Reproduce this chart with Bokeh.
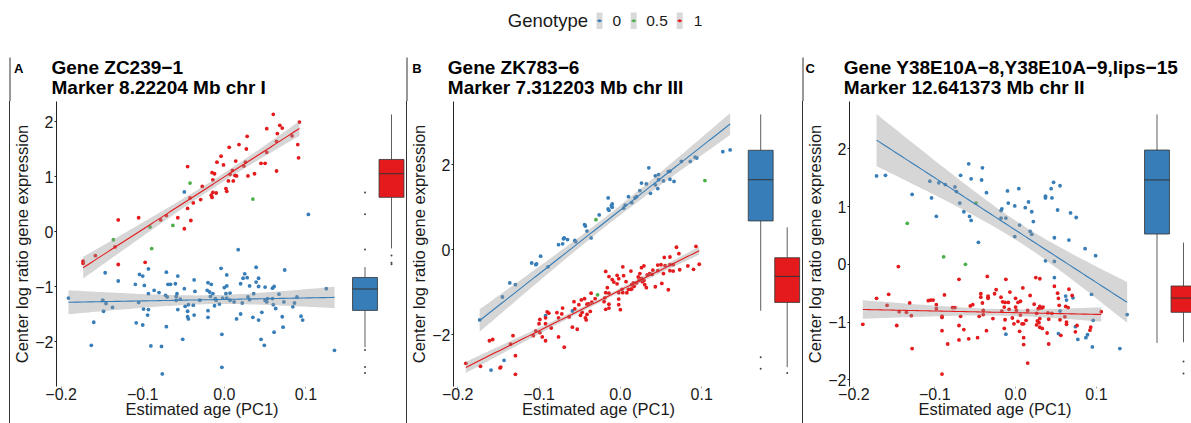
import numpy as np
from bokeh.plotting import figure
from bokeh.layouts import column, row
from bokeh.models import Range1d, FixedTicker, Spacer
from bokeh.embed import file_html
from bokeh.resources import INLINE
from bokeh.core.properties import value

FONT = "Liberation Sans"
TXT = "#1a1a1a"

# ---------------- categories / colours ----------------
genotypes = ["0", "0.5", "1"]
geno_colors = ["#377EB8", "#4DAF4A", "#E41A1C"]

# ---------------- titles ----------------
panel_letters = ["A", "B", "C"]
gene_titles = ["Gene ZC239\u22121", "Gene ZK783\u22126", "Gene Y38E10A\u22128,Y38E10A\u22129,lips\u221215"]
marker_titles = ["Marker 8.22204 Mb chr I", "Marker 7.312203 Mb chr III", "Marker 12.641373 Mb chr II"]
x_label = "Estimated age (PC1)"
y_label = "Center log ratio gene expression"

x_ticks = [-0.2, -0.1, 0.0, 0.1]
x_tick_labels = ["\u22120.2", "\u22120.1", "0.0", "0.1"]
A_y_ticks = [-2, -1, 0, 1, 2]
A_y_tick_labels = ["\u22122", "\u22121", "0", "1", "2"]
B_y_ticks = [-2, 0, 2]
B_y_tick_labels = ["\u22122", "0", "2"]
C_y_ticks = [-2, -1, 0, 1, 2]
C_y_tick_labels = ["\u22122", "\u22121", "0", "1", "2"]

# ---------------- Panel A data (age, expression) ----------------
A_g0 = [(-0.191,-1.21),(-0.146,-0.75),(-0.130,-0.90),(-0.149,-1.25),(-0.145,-1.31),(-0.148,-1.45),(-0.137,-1.38),
        (-0.160,-1.65),(-0.163,-2.07),(-0.109,-0.96),(-0.104,-0.78),(-0.100,-0.81),(-0.098,-0.98),(-0.093,-0.68),
        (-0.086,-1.07),(-0.093,-1.13),(-0.080,-1.11),(-0.105,-1.29),(-0.099,-1.41),(-0.093,-1.42),(-0.094,-1.52),
        (-0.108,-1.66),(-0.100,-1.70),(-0.090,-2.08),(-0.077,-2.09),(-0.076,-2.59),(-0.071,-0.74),(-0.069,-0.96),
        (-0.066,-0.96),(-0.060,-0.95),(-0.072,-1.16),(-0.070,-1.19),(-0.071,-1.73),(-0.057,-0.81),(-0.058,-1.13),
        (-0.059,-1.18),(-0.054,-1.23),(-0.059,-1.25),(-0.049,-1.04),(-0.037,-0.88),(-0.036,-1.09),(-0.057,-1.42),
        (-0.048,-1.36),(-0.044,-1.33),(-0.038,-1.34),(-0.045,-1.45),(-0.045,-1.55),(-0.044,-1.59),(-0.037,-1.52),
        (-0.051,-1.96),(-0.049,0.72),
        (0.103,0.31),(0.017,-0.33),(-0.004,-0.67),(0.039,-0.65),(0.074,-0.70),(0.003,-0.79),(0.025,-0.77),
        (0.028,-0.84),(0.023,-0.85),(0.042,-0.85),(-0.020,-0.93),(-0.016,-0.96),(0.020,-0.95),(0.031,-0.99),
        (0.039,-0.92),(0.000,-1.02),(0.003,-0.99),(0.042,-1.00),(0.050,-1.01),(0.059,-1.03),(0.061,-1.00),
        (-0.021,-1.07),(-0.018,-1.10),(-0.014,-1.13),(-0.017,-1.18),(0.002,-1.13),(0.007,-1.12),(0.067,-1.14),
        (0.089,-1.19),(0.125,-1.04),(-0.011,-1.22),(-0.002,-1.21),(0.003,-1.21),(0.029,-1.19),(0.036,-1.13),
        (0.053,-1.22),(0.059,-1.22),(-0.030,-1.25),(-0.010,-1.25),(0.007,-1.25),(0.012,-1.28),(0.022,-1.30),
        (0.031,-1.24),(0.050,-1.25),(0.052,-1.28),(0.073,-1.28),(0.086,-1.30),(-0.006,-1.32),(-0.012,-1.35),
        (0.060,-1.33),(0.063,-1.40),(0.084,-1.37),(-0.020,-1.44),(-0.020,-1.56),(0.020,-1.50),(0.046,-1.47),
        (0.035,-1.56),(0.015,-1.59),(0.042,-1.61),(0.071,-1.55),(0.094,-1.54),(0.096,-1.61),(0.072,-1.74),
        (0.061,-1.83),(-0.003,-1.87),(0.045,-1.96),(0.049,-2.07),(-0.003,-2.47),(0.135,-2.16)]
A_g05 = [(-0.042,0.88),(-0.063,0.11),(-0.089,-0.31),(-0.136,-0.15),(-0.091,0.08),(0.035,0.59)]
A_g1 = [(-0.045,1.18),(-0.027,0.82),(-0.042,0.61),(-0.029,0.58),(-0.045,0.42),(-0.038,0.52),(-0.041,0.20),
        (-0.049,0.05),(-0.057,0.25),(-0.071,0.29),(-0.078,0.21),(-0.105,0.25),(-0.097,-0.56),(-0.130,0.21),
        (-0.134,-0.28),(-0.130,-0.60),(-0.158,-0.44),(-0.173,-0.54),(-0.173,-0.58),
        (0.060,2.13),(0.068,1.93),(0.071,1.88),(0.052,1.87),(0.092,1.99),(0.065,1.78),(0.028,1.73),(0.018,1.58),
        (0.006,1.53),(0.027,1.50),(0.064,1.64),(0.083,1.74),(0.090,1.58),(0.091,1.34),(0.052,1.44),(-0.004,1.37),
        (-0.009,1.26),(-0.001,1.21),(0.014,1.28),(0.026,1.26),(0.045,1.24),(0.050,1.24),(0.024,1.19),(0.064,1.10),
        (0.037,1.05),(0.029,1.01),(-0.015,1.07),(-0.012,1.05),(-0.014,0.94),(0.007,1.04),(0.010,1.11),(0.013,1.02),
        (0.015,1.01),(0.005,0.92),(0.011,0.92),(0.002,0.78),(0.003,0.73),(-0.014,0.71),(-0.010,0.70),(-0.016,0.66),
        (-0.015,0.62)]
# box statistics: [lower whisker, Q1, median, Q3, upper whisker]
A_box_g0 = [-2.11, -1.44, -1.05, -0.84, -0.65]
A_out_g0 = [0.71, 0.31, -0.33, -2.16, -2.47, -2.58]
A_box_g1 = [-0.31, 0.62, 1.05, 1.31, 2.13]
A_out_g1 = [-0.44, -0.57, -0.60]

# ---------------- Panel B data ----------------
B_g0 = [(-0.173,-1.65),(-0.145,-1.11),(-0.136,-0.78),(-0.129,-0.82),(-0.109,-0.31),(-0.104,-0.35),(-0.103,-0.33),
        (-0.098,-0.15),(-0.089,-0.40),(-0.076,0.12),(-0.071,0.14),(-0.070,0.26),(-0.069,0.28),(-0.065,0.24),
        (-0.056,0.22),(-0.055,0.19),(-0.044,0.59),(-0.043,0.56),(-0.041,0.44),(-0.036,0.28),(-0.092,-1.55),
        (-0.059,-1.44),(-0.143,-2.60),(-0.159,-2.83),
        (-0.026,0.82),(-0.015,1.22),(-0.015,0.96),(-0.014,0.93),(-0.011,1.04),(-0.010,1.08),(-0.010,1.00),
        (0.004,0.98),(0.006,1.05),(0.010,1.25),(0.014,1.11),(0.018,1.22),(0.020,1.25),(0.024,1.39),(0.026,1.57),
        (0.032,1.55),(0.035,1.93),(0.037,1.33),(0.043,1.74),(0.043,1.53),(0.046,1.44),(0.047,1.77),(0.047,1.65),
        (0.053,1.62),(0.059,1.84),(0.061,1.85),(0.061,1.66),(0.066,1.61),(0.075,2.08),(0.086,2.08),(0.092,2.18),
        (0.094,2.16),(0.126,2.31),(0.135,2.35)]
B_g05 = [(-0.030,0.71),(-0.028,-1.06),(0.104,1.63)]
B_g1 = [(-0.190,-2.67),(-0.172,-2.74),(-0.161,-2.14),(-0.157,-2.11),(-0.148,-2.78),(-0.147,-2.76),(-0.132,-2.02),
        (-0.135,-2.22),(-0.129,-2.49),(-0.129,-2.93),(-0.107,-2.02),(-0.104,-1.91),(-0.099,-1.95),(-0.100,-1.74),
        (-0.099,-1.64),(-0.096,-2.05),(-0.092,-2.14),(-0.092,-1.74),(-0.092,-1.60),(-0.090,-1.46),(-0.088,-1.49),
        (-0.085,-1.84),(-0.078,-1.48),(-0.076,-1.60),(-0.076,-2.05),(-0.072,-1.51),(-0.071,-1.37),(-0.069,-2.29),
        (-0.063,-1.58),(-0.059,-1.82),(-0.057,-1.22),(-0.056,-1.39),(-0.053,-1.87),(-0.051,-1.29),(-0.049,-1.54),
        (-0.048,-1.18),(-0.047,-1.47),(-0.044,-1.15),(-0.043,-1.60),(-0.042,-1.65),(-0.041,-1.28),(-0.041,-1.52),
        (-0.039,-1.27),(-0.037,-1.45),(-0.036,-1.02),(-0.035,-1.23),(-0.031,-1.15),
        (0.069,0.06),(0.093,0.08),(0.072,-0.09),(0.054,-0.18),(0.061,-0.17),(0.046,-0.36),(0.050,-0.35),
        (0.055,-0.37),(0.061,-0.35),(0.065,-0.35),(0.073,-0.47),(0.083,-0.38),(0.090,-0.46),(0.097,-0.34),
        (0.003,-0.40),(0.026,-0.42),(0.029,-0.38),(0.040,-0.48),(0.033,-0.59),(0.046,-0.49),(0.053,-0.56),
        (0.061,-0.49),(0.065,-0.50),(-0.018,-0.51),(-0.014,-0.63),(-0.010,-0.70),(-0.008,-0.76),(-0.004,-0.60),
        (-0.004,-0.80),(-0.002,-0.68),(0.004,-0.61),(0.007,-0.75),(0.013,-0.50),(0.014,-0.82),(0.016,-0.78),
        (0.020,-0.78),(0.022,-0.64),(0.024,-0.56),(0.023,-0.72),(0.026,-0.67),(0.027,-0.75),(0.029,-0.72),
        (0.030,-0.82),(0.032,-0.89),(0.036,-0.56),(0.039,-0.58),(0.043,-0.87),(0.051,-0.79),(0.059,-0.94),
        (-0.016,-0.89),(-0.018,-1.01),(-0.014,-1.02),(-0.002,-1.01),(0.002,-0.93),(0.003,-1.01),(0.008,-1.01),
        (0.010,-0.93),(0.013,-0.93),(0.014,-0.92),(0.017,-0.86),(-0.019,-1.13),(-0.020,-1.22),(-0.014,-1.28),
        (-0.002,-1.16),(-0.002,-1.29),(-0.018,-1.40),(-0.014,-1.37),(0.000,-1.41)]
B_box_g0 = [-1.65, 0.18, 1.02, 1.62, 2.35]
B_out_g0 = [-2.60, -2.83]
B_box_g1 = [-2.80, -1.48, -0.95, -0.57, 0.05]
B_out_g1 = [-2.92]

# ---------------- Panel C data ----------------
C_g0 = [(-0.172,1.53),(-0.161,1.54),(-0.128,1.21),(-0.106,1.44),(-0.104,1.15),(-0.098,0.83),(-0.095,1.41),
        (-0.087,1.38),(-0.075,1.34),(-0.073,1.26),(-0.068,1.54),(-0.069,1.06),(-0.064,0.91),(-0.058,1.74),
        (-0.055,1.48),(-0.057,0.83),(-0.055,0.76),(-0.046,0.38),(-0.041,1.67),(-0.042,1.46),(-0.036,1.24),
        (0.047,1.42),(0.055,1.36),(0.044,1.31),(0.037,1.18),(0.037,1.15),(0.045,1.15),(-0.010,1.27),(0.004,1.31),
        (-0.009,1.06),(-0.001,1.01),(0.016,1.08),(0.012,0.98),(0.020,0.91),(-0.017,0.96),(-0.018,0.93),
        (-0.018,0.80),(-0.012,0.80),(0.052,0.94),(0.068,0.89),(0.075,0.81),(0.022,0.74),(0.005,0.68),(0.018,0.57),
        (0.020,0.52),(-0.001,0.48),(0.048,0.46),(0.066,0.42),(0.086,0.27),(0.099,0.15),(0.037,0.06),(0.048,0.05),
        (0.048,-0.23),(0.094,-0.52),(0.062,-0.55),(0.063,-0.62),(0.071,-0.58),(0.055,-0.81),(0.096,-0.97),
        (0.138,-0.87),(-0.012,-1.21),(0.053,-1.20),(0.074,-1.08),(0.077,-1.30),(0.087,-1.27),(0.089,-1.22),
        (0.095,-1.43),(0.129,-1.46)]
C_g05 = [(-0.134,0.71),(-0.089,0.13),(-0.062,0.00),(-0.049,1.06)]
C_g1 = [(-0.189,-1.04),(-0.172,-0.59),(-0.157,-0.52),(-0.159,-0.71),(-0.147,-1.06),(-0.145,-0.04),(-0.144,-0.82),
        (-0.135,-0.83),(-0.131,-0.67),(-0.129,-0.89),(-0.128,-1.46),(-0.108,-0.63),(-0.105,-0.62),(-0.102,-0.62),
        (-0.098,-0.70),(-0.098,-0.77),(-0.091,-0.90),(-0.091,-0.92),(-0.091,-1.15),(-0.091,-1.90),(-0.088,-0.53),
        (-0.084,-1.38),(-0.078,-0.75),(-0.075,-0.75),(-0.070,-0.26),(-0.068,-0.90),(-0.070,-1.06),(-0.070,-1.31),
        (-0.064,-1.13),(-0.058,-1.29),(-0.056,-0.72),(-0.053,-0.70),(-0.047,-1.27),(-0.045,-0.90),(-0.043,-0.51),
        (-0.043,-0.57),(-0.041,-0.67),(-0.040,-0.80),(-0.040,-0.87),(-0.036,-1.15),(-0.035,-0.21),(-0.034,-0.59),
        (-0.034,-0.57),(-0.034,-0.55),
        (-0.012,-0.26),(0.025,-0.23),(0.030,-0.25),(0.009,-0.41),(-0.024,-0.44),(-0.026,-0.51),(-0.007,-0.48),
        (0.018,-0.54),(-0.018,-0.57),(0.000,-0.59),(0.048,-0.38),(0.066,-0.43),(0.052,-0.50),(0.070,-0.54),
        (0.053,-0.59),(-0.016,-0.65),(-0.013,-0.66),(-0.009,-0.66),(0.003,-0.66),(0.006,-0.64),(0.023,-0.69),
        (0.030,-0.73),(0.034,-0.74),(0.054,-0.71),(0.062,-0.73),(0.065,-0.75),(-0.014,-0.74),(0.000,-0.74),
        (-0.017,-0.81),(-0.008,-0.78),(0.001,-0.80),(0.015,-0.80),(0.028,-0.77),(0.032,-0.76),(0.040,-0.84),
        (0.045,-0.85),(0.026,-0.85),(0.006,-0.88),(-0.028,-0.94),(-0.013,-0.96),(-0.004,-0.93),(0.030,-0.94),
        (0.041,-0.95),(0.055,-0.96),(0.061,-0.91),(0.063,-1.00),(0.063,-1.04),(0.003,-0.99),(0.008,-1.03),
        (0.010,-1.03),(0.013,-0.97),(0.027,-0.98),(0.029,-1.01),(0.026,-1.05),(0.030,-1.09),(0.033,-1.11),
        (-0.014,-1.11),(-0.002,-1.03),(0.005,-1.16),(0.039,-1.19),(0.056,-1.23),(0.074,-1.17),(0.076,-1.06),
        (0.092,-1.14),(0.093,-1.09),(0.106,-0.82),(0.010,-1.27),(0.010,-1.39),(0.041,-1.38),(0.015,-1.71)]
C_box_g0 = [-1.47, 0.06, 0.82, 1.24, 1.74]
C_out_g0 = []
C_box_g1 = [-1.46, -1.04, -0.84, -0.67, -0.06]
C_out_g1 = [-1.73, -1.90]

# ---------------- layout (page pixels, layout starts at 0,0) ----------------
PAGE_W = 1191
HDR_TOP, HDR_BOTTOM, FIG_BOTTOM = 0, 101, 423
FT, FB = 101, 386
BOX_UNIT = 26.5
panels = [
    dict(fig_left=10, frame_left=51, scatter_right=347, box_right=406, x0_px=221.7, x_ppu=830,
         y0_px=231.0, y_ppu=55.0, box_px=364.5, y_ticks=A_y_ticks, y_tick_labels=A_y_tick_labels,
         groups=[A_g0, A_g05, A_g1], boxes=[A_box_g0, A_box_g1], outs=[A_out_g0, A_out_g1]),
    dict(fig_left=407, frame_left=447, scatter_right=743, box_right=802, x0_px=617.3, x_ppu=830,
         y0_px=249.3, y_ppu=42.5, box_px=760.2, y_ticks=B_y_ticks, y_tick_labels=B_y_tick_labels,
         groups=[B_g0, B_g05, B_g1], boxes=[B_box_g0, B_box_g1], outs=[B_out_g0, B_out_g1]),
    dict(fig_left=803, frame_left=843, scatter_right=1140, box_right=1191, x0_px=1012.5, x_ppu=825,
         y0_px=263.8, y_ppu=57.75, box_px=1156.5, y_ticks=C_y_ticks, y_tick_labels=C_y_tick_labels,
         groups=[C_g0, C_g05, C_g1], boxes=[C_box_g0, C_box_g1], outs=[C_out_g0, C_out_g1]),
]
title_x = [51.0, 447.3, 843.3]
letter_x = [13.5, 411.7, 805.0]
sep_x = [9, 406, 802]


def lm_band(pairs, n=80, t=1.98):
    x = np.array([p[0] for p in pairs])
    y = np.array([p[1] for p in pairs])
    b, a = np.polyfit(x, y, 1)
    xs = np.linspace(x.min(), x.max(), n)
    fit = a + b * xs
    res = y - (a + b * x)
    s = np.sqrt((res ** 2).sum() / (len(x) - 2))
    se = s * np.sqrt(1.0 / len(x) + (xs - x.mean()) ** 2 / ((x - x.mean()) ** 2).sum())
    return xs, fit, fit - t * se, fit + t * se


def make_scatter(spec):
    fl, fr = spec["frame_left"], spec["scatter_right"]
    x0, xppu, y0, yppu = spec["x0_px"], spec["x_ppu"], spec["y0_px"], spec["y_ppu"]
    p = figure(width=fr - spec["fig_left"], height=FIG_BOTTOM - HDR_BOTTOM, title=None,
               x_range=Range1d((fl - x0) / xppu, (fr - x0) / xppu),
               y_range=Range1d((y0 - FB) / yppu, (y0 - FT) / yppu),
               output_backend="svg", toolbar_location=None,
               min_border_left=fl - spec["fig_left"], min_border_right=0,
               min_border_top=FT - HDR_BOTTOM, min_border_bottom=FIG_BOTTOM - FB)
    p.grid.visible = False
    p.outline_line_color = None
    groups = spec["groups"]
    for g, col in zip(groups, geno_colors):
        p.scatter([q[0] for q in g], [q[1] for q in g], size=3.8, fill_color=col, line_color=None)
    for g, col in [(groups[0], geno_colors[0]), (groups[2], geno_colors[2])]:
        xs, fit, lo, hi = lm_band(g)
        p.varea(x=xs, y1=lo, y2=hi, fill_color="#999999", fill_alpha=0.4)
        p.line(xs, fit, line_color=col, line_width=1.1)

    p.xaxis.ticker = FixedTicker(ticks=x_ticks)
    p.xaxis.major_label_overrides = dict(zip(x_ticks, x_tick_labels))
    p.xaxis.axis_line_color = None
    p.xaxis.major_tick_out = 2
    p.xaxis.major_tick_in = 0
    p.xaxis.major_tick_line_color = "#aaaaaa"
    p.xaxis.minor_tick_line_color = None
    p.xaxis.major_label_standoff = -1
    p.xaxis.axis_label = x_label
    p.xaxis.axis_label_standoff = -3
    p.yaxis.ticker = FixedTicker(ticks=spec["y_ticks"])
    p.yaxis.major_label_overrides = dict(zip(spec["y_ticks"], spec["y_tick_labels"]))
    p.yaxis.axis_line_color = "#222222"
    p.yaxis.axis_line_width = 1
    p.yaxis.major_tick_out = 2
    p.yaxis.major_tick_in = 0
    p.yaxis.major_tick_line_color = "#222222"
    p.yaxis.minor_tick_line_color = None
    p.yaxis.major_label_standoff = 1
    p.yaxis.axis_label = y_label
    p.yaxis.axis_label_standoff = 1
    for ax in (p.xaxis, p.yaxis):
        ax.major_label_text_font = FONT
        ax.major_label_text_font_size = "16px"
        ax.major_label_text_color = TXT
        ax.axis_label_text_font = FONT
        ax.axis_label_text_font_size = "16.5px"
        ax.axis_label_text_font_style = "normal"
        ax.axis_label_text_color = TXT
    return p


def make_box(spec):
    left, right, bc = spec["scatter_right"], spec["box_right"], spec["box_px"]
    all_y = [q[1] for g in spec["groups"] for q in g]
    ylo, yhi = min(all_y), max(all_y)
    pad = 0.05 * (yhi - ylo)
    b = figure(width=right - left, height=FIG_BOTTOM - HDR_BOTTOM, title=None,
               x_range=Range1d(1 - (bc - left) / BOX_UNIT, 1 + (right - bc) / BOX_UNIT),
               y_range=Range1d(ylo - pad, yhi + pad), x_axis_type=None, y_axis_type=None,
               output_backend="svg", toolbar_location=None,
               min_border_left=0, min_border_right=0,
               min_border_top=FT - HDR_BOTTOM, min_border_bottom=FIG_BOTTOM - FB)
    b.grid.visible = False
    b.outline_line_color = None
    for k, (st, outs, col) in enumerate(zip(spec["boxes"], spec["outs"], [geno_colors[0], geno_colors[2]])):
        pos = 1 + k
        lw_, q1, med, q3, uw = st
        b.segment(x0=[pos, pos], y0=[q3, lw_], x1=[pos, pos], y1=[uw, q1], line_color="#333333", line_width=0.8)
        b.quad(left=[pos - 0.47], right=[pos + 0.47], bottom=[q1], top=[q3], fill_color=col,
               line_color="#333333", line_width=0.8)
        b.segment(x0=[pos - 0.47], y0=[med], x1=[pos + 0.47], y1=[med], line_color="#333333", line_width=1.0)
        if outs:
            b.scatter([pos] * len(outs), outs, size=2.0, fill_color="#444444", line_color=None)
    return b


def sep():
    return Spacer(width=1, height=FIG_BOTTOM - HDR_BOTTOM, styles={"background-color": "#333333"})


panel_row = row(Spacer(width=sep_x[0], height=FIG_BOTTOM - HDR_BOTTOM),
                sep(), make_scatter(panels[0]), make_box(panels[0]),
                sep(), make_scatter(panels[1]), make_box(panels[1]),
                sep(), make_scatter(panels[2]), make_box(panels[2]))

# ---------------- header: legend + panel titles ----------------
hdr = figure(width=PAGE_W, height=HDR_BOTTOM - HDR_TOP, title=None, x_range=Range1d(0, PAGE_W),
             y_range=Range1d(HDR_BOTTOM, HDR_TOP), x_axis_type=None, y_axis_type=None, min_border=0,
             toolbar_location=None, output_backend="svg")
hdr.grid.visible = False
hdr.outline_line_color = None
key_x = [599.0, 633.2, 679.2]
lab_x = [612.0, 645.7, 693.3]
hdr.text(x=[507.3], y=[20.3], text=["Genotype"], text_font=value(FONT), text_font_size="18.5px",
         text_baseline="middle", text_align="left", text_color=TXT)
hdr.quad(left=[k - 3 for k in key_x], right=[k + 3 for k in key_x], top=[12] * 3, bottom=[28.5] * 3,
         fill_color="#D9D9D9", line_color=None)
hdr.segment(x0=[k - 2.5 for k in key_x], y0=[20.3] * 3, x1=[k + 2.5 for k in key_x], y1=[20.3] * 3,
            line_color=geno_colors, line_width=1)
hdr.scatter(x=key_x, y=[20.3] * 3, size=3, fill_color=geno_colors, line_color=None)
hdr.text(x=lab_x, y=[20.3] * 3, text=genotypes, text_font=value(FONT), text_font_size="15.5px",
         text_baseline="middle", text_align="left", text_color=TXT)
hdr.text(x=title_x, y=[66.8] * 3, text=gene_titles, text_font=value(FONT), text_font_size="19px",
         text_font_style="bold", text_baseline="middle", text_align="left", text_color="#000000")
hdr.text(x=title_x, y=[87.3] * 3, text=marker_titles, text_font=value(FONT), text_font_size="19px",
         text_font_style="bold", text_baseline="middle", text_align="left", text_color="#000000")
hdr.text(x=letter_x, y=[68.3] * 3, text=panel_letters, text_font=value(FONT), text_font_size="13px",
         text_font_style="bold", text_baseline="middle", text_align="left", text_color="#000000")
hdr.segment(x0=[s + 0.5 for s in sep_x], y0=[57] * 3, x1=[s + 0.5 for s in sep_x], y1=[HDR_BOTTOM] * 3,
            line_color="#333333", line_width=1)

layout = column(hdr, panel_row)
open("out.html", "w").write(file_html(layout, INLINE))
